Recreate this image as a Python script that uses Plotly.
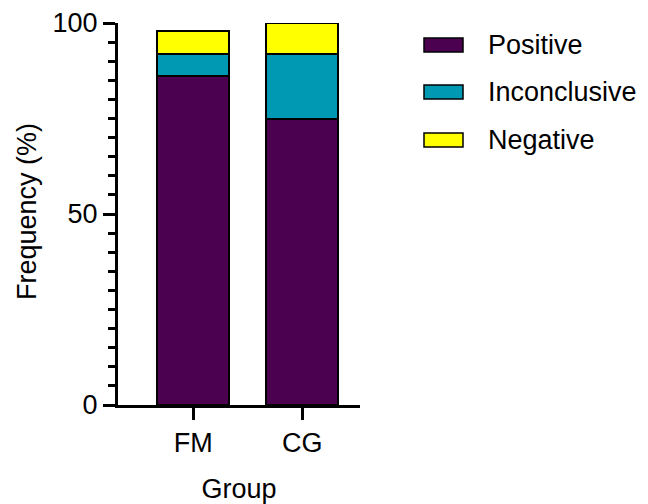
import plotly.graph_objects as go

groups = ["FM", "CG"]
series_names = ["Positive", "Inconclusive", "Negative"]
positive = [86, 75]
inconclusive = [6, 17]
negative = [6, 8]
colors = ["#4B0050", "#0099B4", "#FFFF00"]

values = [positive, inconclusive, negative]
FONT = "Liberation Sans, Arial, sans-serif"
FS = 27

# plot area in page pixels (page has an 8px body margin)
L, T, W, H = 110, 15, 242, 382
BOTTOM = T + H + 8  # page y of zero line
LEFT = L + 8        # page x of y axis

fig = go.Figure()
for name, vals, col in zip(series_names, values, colors):
    fig.add_trace(go.Bar(
        x=groups, y=vals, name=name, width=0.66,
        marker=dict(color=col, line=dict(color="black", width=2)),
        showlegend=False,
    ))

# custom legend (large swatches as in reference)
leg_y = [45, 92, 140]
for name, col, yy in zip(series_names, colors, leg_y):
    fig.add_shape(type="rect", xref="paper", yref="paper",
                  x0=(424 - LEFT) / W, x1=(463 - LEFT) / W,
                  y0=(BOTTOM - yy - 7) / H, y1=(BOTTOM - yy + 7) / H,
                  fillcolor=col, line=dict(color="black", width=1.5))
    fig.add_annotation(text=name, xref="paper", yref="paper",
                       x=(486 - LEFT) / W, y=(BOTTOM - yy) / H,
                       xanchor="left", yanchor="middle", showarrow=False,
                       font=dict(family=FONT, size=FS, color="black"))

# y axis title
fig.add_annotation(text="Frequency (%)", xref="paper", yref="paper",
                   x=(27 - LEFT) / W, y=(BOTTOM - 212) / H, textangle=-90,
                   xanchor="center", yanchor="middle", showarrow=False,
                   font=dict(family=FONT, size=FS, color="black"))

fig.update_layout(
    barmode="stack",
    width=648, height=504,
    margin=dict(l=L, r=648 - L - W, t=T, b=504 - T - H),
    paper_bgcolor="white", plot_bgcolor="white",
    font=dict(family=FONT, size=FS, color="black"),
    bargap=0,
)
fig.update_xaxes(
    range=[-0.69, 1.53], showline=True, linecolor="black", linewidth=3,
    ticks="outside", ticklen=12, tickwidth=3, tickcolor="black",
    title=dict(text="Group", font=dict(size=FS), standoff=22),
    tickfont=dict(size=FS), showgrid=False, zeroline=False, automargin=False,
)
fig.update_yaxes(
    range=[0, 100], showline=True, linecolor="black", linewidth=3,
    ticks="outside", ticklen=12, tickwidth=3, tickcolor="black",
    tickvals=[0, 50, 100], ticktext=["0", "50", "100"],
    ticklabeloverflow="allow",
    minor=dict(dtick=5, ticks="outside", ticklen=7, tickwidth=3, tickcolor="black", showgrid=False),
    tickfont=dict(size=FS), showgrid=False, zeroline=False, automargin=False,
)

fig.write_html("out.html")
